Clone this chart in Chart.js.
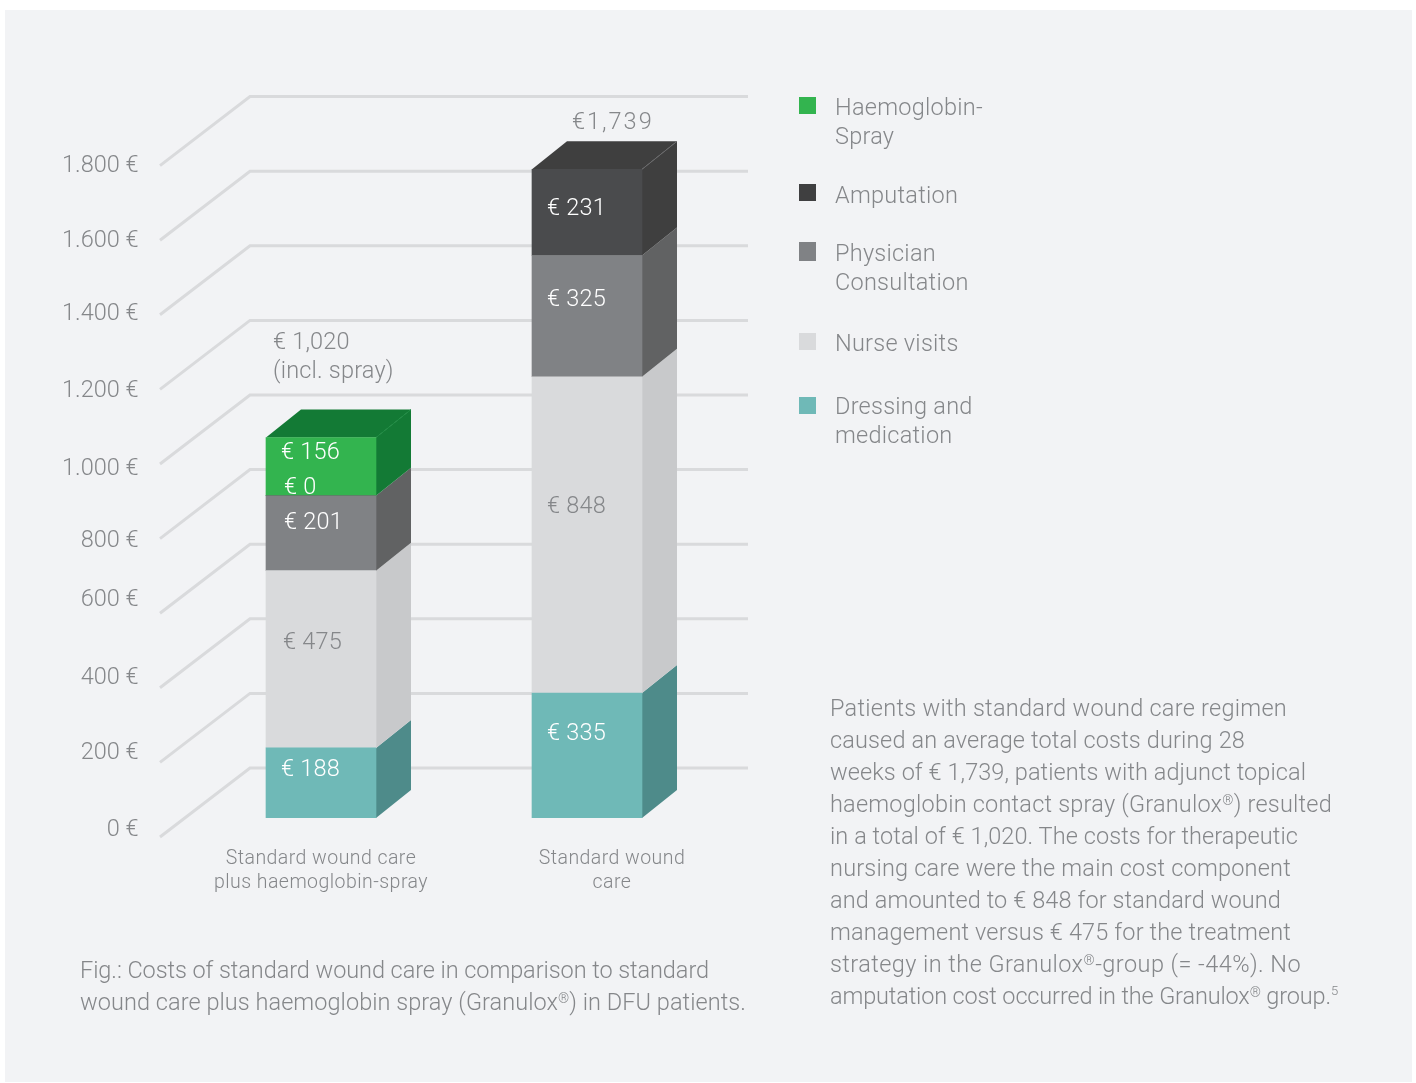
<!DOCTYPE html>
<html>
<head>
<meta charset="utf-8">
<title>Costs of wound care</title>
<script src="https://cdn.jsdelivr.net/npm/chart.js@4"></script>
<style>
    html, body { margin: 0; padding: 0; background: #fff; }
    body { width: 1416px; height: 1083px; position: relative; overflow: hidden; font-family: Roboto, sans-serif; font-weight: 300; color: #85878a; }
    #panel { position: absolute; left: 5px; top: 10px; width: 1407px; height: 1072px; background: #f2f3f5; }
    #chart { position: absolute; left: 0; top: 0; }
    .block { position: absolute; white-space: nowrap; font-size: 23.5px; line-height: 32px; }
    .block div { display: table; }
    #caption { left: 80px; top: 954px; }
    #note { left: 830px; top: 692px; }
    .legend-item { position: absolute; left: 799px; width: 17px; }
    .legend-item span { position: absolute; left: 36px; white-space: nowrap; font-size: 23.5px; line-height: 29px; letter-spacing: 0.25px; }
    sup { font-size: 13px; line-height: 0; }
    .reg { font-size: 14px; vertical-align: 7px; line-height: 0; }
</style>
</head>
<body>
<div id="panel"></div>
<canvas id="chart" width="1416" height="1083"></canvas>
<div id="legend"></div>
<div class="block" id="caption"></div>
<div class="block" id="note"></div>

<script>
// Chart data
const categories = [['Standard wound care', 'plus haemoglobin-spray'], ['Standard wound', 'care']];
const dressing = [188, 335];
const nurse = [475, 848];
const physician = [201, 325];
const amputation = [0, 231];
const spray = [156, null];
const totalLabels = [['€ 1,020', '(incl. spray)'], ['€1,739']];
const tickValues = [0, 200, 400, 600, 800, 1000, 1200, 1400, 1600, 1800];
const tickLabels = ['0 €', '200 €', '400 €', '600 €', '800 €', '1.000 €', '1.200 €', '1.400 €', '1.600 €', '1.800 €'];
const legendLabels = [['Haemoglobin-', 'Spray'], ['Amputation'], ['Physician', 'Consultation'], ['Nurse visits'], ['Dressing and', 'medication']];

const REG = '<span class="reg">®</span>';
const captionLines = [
    'Fig.: Costs of standard wound care in comparison to standard',
    `wound care plus haemoglobin spray (Granulox${REG}) in DFU patients.`
];
const noteLines = [
    'Patients with standard wound care regimen',
    'caused an average total costs during 28',
    'weeks of € 1,739, patients with adjunct topical',
    `haemoglobin contact spray (Granulox${REG}) resulted`,
    'in a total of € 1,020. The costs for therapeutic',
    'nursing care were the main cost component',
    'and amounted to € 848 for standard wound',
    'management versus € 475 for the treatment',
    `strategy in the Granulox${REG}-group (= -44%). No`,
    `amputation cost occurred in the Granulox${REG} group.<sup>5</sup>`
];

// The original artwork places its labels by hand, these are the offsets from the scale
const tickNudge = [10, 7.6, 7, 3, 19.4, 22, 18.6, 16, 17.8, 17.4];
const segmentNudge = {
    Dressing: [[15, -15], [15, -23.5]],
    Nurse: [[17, -19], [15, -30]],
    Physician: [[18, -13], [15, -19]],
    Amputation: [[18, -10], [15, -6]],
    Spray: [[15, -16], null]
};
const categoryNudge = [0, 25];
const totalNudge = [[7, -97, 'left'], [40, -49, 'left']];
const legendTops = [97, 184, 242, 333, 397];
const legendHeights = [17, 17, 19, 17, 17];
const legendTextTops = [-4, -3, -3, -4, -5];
const captionWidths = [629, 666];
const noteWidths = [457, 415, 476, 502, 468, 461, 451, 461, 471, 508];

const GREY_TEXT = '#85878a';
const GRID_COLOR = '#d9dadc';
const DEPTH_X = 35;
const DEPTH_Y = 28;
const FONT = '300 23.5px Roboto, sans-serif';
const BASELINE_FIX = 2.5;

const seriesList = [
    { name: 'Dressing', values: dressing, front: '#6fb9b7', side: '#4e8b8a', labelColor: '#fff' },
    { name: 'Nurse', values: nurse, front: '#d9dadc', side: '#c8c9cb', labelColor: GREY_TEXT },
    { name: 'Physician', values: physician, front: '#808285', side: '#616263', labelColor: '#fff' },
    { name: 'Amputation', values: amputation, front: '#4a4b4d', side: '#3f3f3f', labelColor: '#fff', edge: '#69696b', swatch: '#3f3f40' },
    { name: 'Spray', values: spray, front: '#33b44f', side: '#137a35', labelColor: '#fff', edge: '#1c8a40' }
];

function drawText(ctx, text, x, y, color, font, align, spacing) {
    ctx.font = font;
    ctx.fillStyle = color;
    ctx.textAlign = align;
    ctx.textBaseline = 'middle';
    ctx.letterSpacing = spacing;
    ctx.fillText(text, x, y + BASELINE_FIX);
}

// Oblique gridlines, bar depth and all labels
const wallPlugin = {
    id: 'wall',
    beforeDatasetsDraw(chart) {
        const ctx = chart.ctx;
        const yScale = chart.scales.y;
        ctx.save();

        // grid floor lines
        ctx.strokeStyle = GRID_COLOR;
        ctx.lineWidth = 3;
        ctx.lineJoin = 'miter';
        tickValues.forEach(v => {
            const y = yScale.getPixelForValue(v);
            ctx.beginPath();
            ctx.moveTo(160, y + 19);
            ctx.lineTo(250, y - 50);
            ctx.lineTo(748, y - 50);
            ctx.stroke();
        });

        // side faces and top face
        seriesList.forEach((series, i) => {
            chart.getDatasetMeta(i).data.forEach((bar, j) => {
                if (series.values[j] == null) return;
                const right = bar.x + bar.width / 2;
                ctx.fillStyle = series.side;
                ctx.beginPath();
                ctx.moveTo(right, bar.y);
                ctx.lineTo(right + DEPTH_X, bar.y - DEPTH_Y);
                ctx.lineTo(right + DEPTH_X, bar.base - DEPTH_Y);
                ctx.lineTo(right, bar.base);
                ctx.closePath();
                ctx.fill();

                const isTop = !seriesList.slice(i + 1).some(s => s.values[j] > 0);
                if (isTop) {
                    const left = bar.x - bar.width / 2;
                    ctx.beginPath();
                    ctx.moveTo(left, bar.y);
                    ctx.lineTo(left + DEPTH_X, bar.y - DEPTH_Y);
                    ctx.lineTo(right + DEPTH_X, bar.y - DEPTH_Y);
                    ctx.lineTo(right, bar.y);
                    ctx.closePath();
                    ctx.fill();
                    ctx.strokeStyle = series.edge;
                    ctx.lineWidth = 1;
                    ctx.beginPath();
                    ctx.moveTo(right, bar.y);
                    ctx.lineTo(right + DEPTH_X, bar.y - DEPTH_Y);
                    ctx.stroke();
                }
            });
        });
        ctx.restore();
    },
    afterDatasetsDraw(chart) {
        const ctx = chart.ctx;
        const yScale = chart.scales.y;
        const xScale = chart.scales.x;
        ctx.save();

        // y axis labels
        yScale.ticks.forEach((tick, i) => {
            const y = yScale.getPixelForValue(tick.value);
            drawText(ctx, tickLabels[i], 138.5, y + tickNudge[i], GREY_TEXT, FONT, 'right', '0px');
        });

        // x axis labels
        categories.forEach((lines, i) => {
            const x = xScale.getPixelForValue(i) + categoryNudge[i];
            lines.forEach((line, k) => {
                drawText(ctx, line, x, 856.5 + k * 24.5, GREY_TEXT, '300 19.5px Roboto, sans-serif', 'center', '0.45px');
            });
        });

        // value labels inside the bars
        seriesList.forEach((series, i) => {
            chart.getDatasetMeta(i).data.forEach((bar, j) => {
                const nudge = segmentNudge[series.name][j];
                if (series.values[j] == null || !nudge) return;
                const left = bar.x - bar.width / 2;
                const middle = (bar.y + bar.base) / 2;
                drawText(ctx, '€ ' + series.values[j], left + nudge[0], middle + nudge[1], series.labelColor, FONT, 'left', '0.2px');
            });
        });

        // totals above the bars
        totalLabels.forEach((lines, j) => {
            const stackTop = Math.min(...seriesList.map((s, i) => chart.getDatasetMeta(i).data[j].y));
            const left = xScale.getPixelForValue(j) - 55;
            lines.forEach((line, k) => {
                drawText(ctx, line, left + totalNudge[j][0], stackTop + totalNudge[j][1] + k * 29.5, GREY_TEXT, FONT, totalNudge[j][2], j === 1 ? '2px' : '0.2px');
            });
        });
        ctx.restore();
    }
};

new Chart(document.getElementById('chart'), {
    type: 'bar',
    data: {
        labels: categories,
        datasets: seriesList.map(series => ({
            label: series.name,
            data: series.values,
            backgroundColor: series.front,
            borderWidth: 0,
            barThickness: 110
        }))
    },
    options: {
        responsive: false,
        animation: false,
        devicePixelRatio: 1,
        layout: { padding: { left: 188, right: 696, top: 146.6, bottom: 265 } },
        plugins: { legend: { display: false }, tooltip: { enabled: false } },
        scales: {
            x: { stacked: true, display: false },
            y: { stacked: true, display: false, min: 0, max: 1800, ticks: { stepSize: 200 } }
        }
    },
    plugins: [wallPlugin]
});

// Legend
const legendBox = document.getElementById('legend');
legendLabels.forEach((lines, i) => {
    const series = seriesList[seriesList.length - 1 - i];
    legendBox.innerHTML += `<div class="legend-item" style="top:${legendTops[i]}px;height:${legendHeights[i]}px;background:${series.swatch || series.front}"><span style="top:${legendTextTops[i]}px">${lines.join('<br>')}</span></div>`;
});

// Text blocks, each line is spaced out to the width it has in the original
function fillLines(id, lines, widths) {
    const box = document.getElementById(id);
    lines.forEach((html, i) => {
        const line = document.createElement('div');
        line.innerHTML = html;
        box.appendChild(line);
        const gap = (widths[i] - line.getBoundingClientRect().width) / line.textContent.length;
        line.style.letterSpacing = gap + 'px';
    });
}
fillLines('caption', captionLines, captionWidths);
fillLines('note', noteLines, noteWidths);
</script>
</body>
</html>
